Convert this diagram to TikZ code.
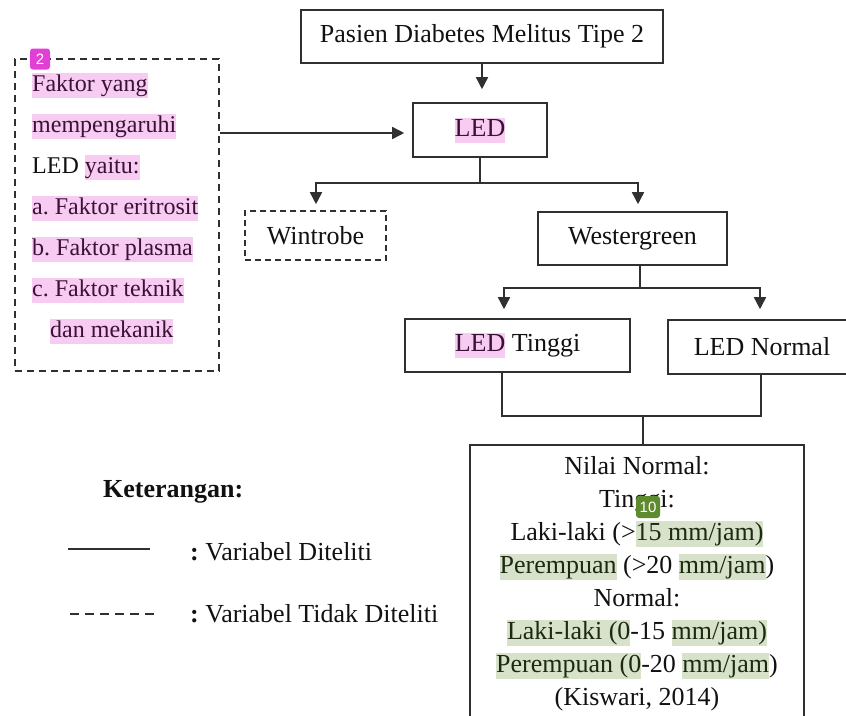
\documentclass[tikz,border=0pt]{standalone}
\usepackage{fontspec}
\setmainfont{Liberation Serif}
\newfontfamily\badgefont{Liberation Sans}
\usetikzlibrary{arrows.meta}
\frenchspacing
\definecolor{hlpink}{HTML}{F7CBF2}
\definecolor{hlgreen}{HTML}{D8E2CB}
\definecolor{linecol}{HTML}{303030}
\definecolor{txtcol}{HTML}{111111}
\definecolor{pinktxt}{HTML}{3A1236}
\definecolor{greentxt}{HTML}{1C2A12}
\definecolor{badgepink}{HTML}{E23FD6}
\definecolor{badgegreen}{HTML}{5E8B2E}
\newcommand{\hlp}[1]{{\setlength{\fboxsep}{0pt}\colorbox{hlpink}{\rule[-6.5pt]{0pt}{25pt}\textcolor{pinktxt}{#1}}}}
\newcommand{\hlg}[1]{{\setlength{\fboxsep}{0pt}\colorbox{hlgreen}{\rule[-6.5pt]{0pt}{26pt}\textcolor{greentxt}{#1}}}}
\tikzset{
  box/.style={draw=linecol, line width=1.6pt, inner sep=0pt, text=txtcol},
  dbox/.style={box, dash pattern=on 7pt off 5pt},
  txt/.style={inner sep=0pt, text=txtcol, font=\fontsize{26}{33}\selectfont},
  conn/.style={draw=linecol, line width=1.6pt},
  arr/.style={conn, -{Triangle[length=12pt,width=12pt]}},
  badge/.style={rounded corners=3pt, inner sep=0pt, text=white, font=\badgefont\fontsize{15}{15}\selectfont}
}
\begin{document}
\begin{tikzpicture}[x=1pt,y=-1pt]
\useasboundingbox (0,0) rectangle (846,715);
\begin{scope}
\clip (0,0) rectangle (846,715);
% main boxes
\node[box, minimum width=362pt, minimum height=53pt, txt] (top) at (482,36.5) {Pasien Diabetes Melitus Tipe 2};
\node[box, minimum width=134pt, minimum height=54pt, txt] (led) at (480,130) {\hlp{LED}};
\node[dbox, minimum width=141pt, minimum height=49pt, txt, dash pattern=on 6pt off 4pt] (wint) at (315.5,235.5) {Wintrobe};
\node[box, minimum width=189pt, minimum height=53pt, txt] (west) at (632.5,238.5) {Westergreen};
\node[box, minimum width=225pt, minimum height=53pt, txt] (ting) at (517.5,345.5) {\hlp{LED} Tinggi};
\node[box, minimum width=188pt, minimum height=54pt, txt] (norm) at (762,347) {LED Normal};
\node[box, minimum width=334pt, minimum height=300pt] (nilai) at (637,595) {};
\node[txt, align=center] (nilaitxt) at (637,584) {Nilai Normal:\\ Tinggi:\\ Laki-laki (>\hlg{15 mm/jam)}\\ \hlg{Perempuan} (>20 \hlg{mm/jam})\\ Normal:\\ \hlg{Laki-laki (0}-15 \hlg{mm/jam)}\\ \hlg{Perempuan (0}-20 \hlg{mm/jam})\\ (Kiswari, 2014)};
% left factor box
\node[dbox, minimum width=204pt, minimum height=312pt] (fac) at (117,215) {};
\node[txt, anchor=west, align=left, font=\fontsize{24}{41}\selectfont] (factxt) at (32,208) {\hlp{Faktor yang}\\ \hlp{mempengaruhi}\\ LED \hlp{yaitu:}\\ \hlp{a. Faktor eritrosit}\\ \hlp{b. Faktor plasma}\\ \hlp{c. Faktor teknik}\\ \hspace*{18pt}\hlp{dan mekanik}};
% connectors
\draw[arr, shorten >=13pt] (top.south) -- (top.south |- led.north);
\coordinate (facout) at (fac.east |- 0,133);
\draw[arr, shorten >=8pt] (facout) -- (led.west |- facout);
\coordinate (b1) at (480,183);
\draw[conn] (led.south) -- (b1);
\draw[arr, shorten >=6pt] (b1) -| ([xshift=0.5pt]wint.north);
\draw[arr, shorten >=7pt] (b1) -| ([xshift=5.5pt]west.north);
\coordinate (b2) at (640,288);
\draw[conn] ([xshift=7.5pt]west.south) -- (b2);
\draw[arr, shorten >=9pt] (b2) -| ([xshift=-13.5pt]ting.north);
\draw[arr, shorten >=10pt] (b2) -| ([xshift=-2pt]norm.north);
\coordinate (b3) at (643,416);
\draw[conn] ([xshift=-15.5pt]ting.south) |- (b3) -| ([xshift=-1pt]norm.south);
\draw[conn] (b3) -- (b3 |- nilai.north);
% legend
\node[txt, anchor=west, font=\bfseries\fontsize{26}{30}\selectfont] (ket) at (103,492) {Keterangan:};
\coordinate (l1a) at (68,549);
\coordinate (l1b) at (150,549);
\draw[conn, line width=1.3pt] (l1a) -- (l1b);
\node[txt, anchor=west, font=\fontsize{26}{30}\selectfont] (lt1) at (190,552) {\textbf{:} Variabel Diteliti};
\coordinate (l2a) at (70,614);
\coordinate (l2b) at (158,614);
\draw[conn, line width=1.3pt, dash pattern=on 9pt off 6pt] (l2a) -- (l2b);
\node[txt, anchor=west, font=\fontsize{26}{30}\selectfont] (lt2) at (190,614) {\textbf{:} Variabel Tidak Diteliti};
% annotation badges
\node[badge, fill=badgepink, minimum width=20pt, minimum height=21pt] (bdg1) at (40,59) {2};
\node[badge, fill=badgegreen, minimum width=24pt, minimum height=22pt] (bdg2) at (648,507) {10};
\end{scope}
\end{tikzpicture}
\end{document}
